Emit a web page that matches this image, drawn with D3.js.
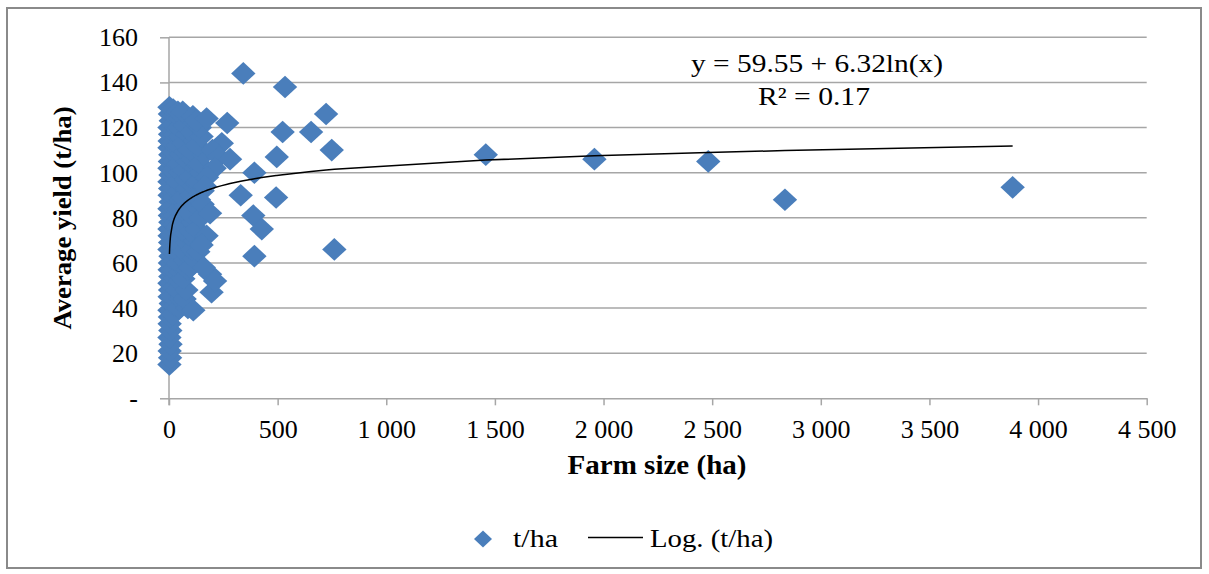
<!DOCTYPE html>
<html>
<head>
<meta charset="utf-8">
<script src="https://cdn.jsdelivr.net/npm/d3@7"></script>
<style>
  body { margin: 0; background: #fff; }
  text { font-family: "Liberation Serif", "Times New Roman", serif; fill: #000; }
</style>
</head>
<body>
<div class="chart"></div>
<script>
// farm size (ha) vs average yield (t/ha)
var farmSize = [
  // narrow column at the y axis
  2,5,3,7,2,6,3,4,2,8,3,5,2,6,3,4,7,2,5,3,2,6,4,2,8,3,5,2,7,2,4,6,2,3,5,2,8,4,2,
  18,25,15,22,28,17,24,20,26,16,23,29,19,25,21,27,18,24,22,16,28,20,25,19,
  45,52,40,48,55,42,50,46,53,41,49,44,54,47,40,51,45,55,43,50,46,52,41,
  87,72,80,66,85,74,68,82,77,70,88,75,65,83,79,71,86,76,67,84,73,63,
  112,98,115,105,120,100,110,95,118,104,114,99,122,108,96,117,103,120,110,
  135,128,145,138,155,132,148,140,160,130,150,142,125,
  173,268,243,200,230,281,210,175,165,155,189,173,150,189,196,212,160,
  // scattered farms
  342,534,723,523,654,749,496,393,493,330,388,427,393,761,
  1458,1958,2482,2835,3883
];
var avgYield = [
  15,18,21,24,27,30,33,36,39,42,45,48,51,54,57,60,63,66,69,72,75,78,81,84,87,90,93,96,99,102,105,108,111,114,117,120,123,126,129,
  37,41,45,49,53,57,61,65,69,73,77,81,85,89,93,97,101,105,109,113,117,121,125,128,
  40,44,48,52,56,60,64,68,72,76,80,84,88,92,96,100,104,108,112,116,120,124,127,
  40,44,48,53,57,61,65,69,73,77,81,85,89,93,97,101,105,109,113,117,121,127,
  39,58,62,66,70,74,78,82,86,90,94,98,102,106,110,114,118,122,125,
  65,75,80,88,92,96,100,104,108,112,116,120,123,
  124,122,113,110,107,106,102,98,94,86,82,72,68,55,47,52,58,
  144,138,126,118,118,110,107,100,89,90,81,75,63,66,
  108,106,105,88,93.5
];
var xTicks = [0,500,1000,1500,2000,2500,3000,3500,4000,4500];
var yTicks = [0,20,40,60,80,100,120,140,160];
var trendA = 59.55, trendB = 6.32;   // y = a + b ln(x)
var eqText = "y = 59.55 + 6.32ln(x)";
var r2Text = "R\u00b2 = 0.17";

var width = 1209, height = 574;
var svg = d3.select(".chart").append("svg").attr("width", width).attr("height", height);

svg.append("rect").attr("x", 7).attr("y", 8).attr("width", 1194).attr("height", 560)
  .attr("fill", "#fff").attr("stroke", "#8a8a8a").attr("stroke-width", 2);

var x = d3.scaleLinear().domain([0, 4500]).range([169, 1146.7]);
var y = d3.scaleLinear().domain([0, 160]).range([398.3, 37.3]);

// gridlines
svg.append("g").selectAll("line").data(yTicks.filter(function(d){ return d > 0; })).enter().append("line")
  .attr("x1", x(0)).attr("x2", x(4500))
  .attr("y1", function(d){ return y(d); }).attr("y2", function(d){ return y(d); })
  .attr("stroke", "#a6a6a6").attr("stroke-width", 1.5);

var fmt = function(d){ return d >= 1000 ? d3.format(",")(d).replace(",", " ") : String(d); };

var xAxis = svg.append("g").attr("transform", "translate(0," + y(0) + ")")
  .call(d3.axisBottom(x).tickValues(xTicks).tickFormat(fmt).tickSize(7).tickSizeOuter(0).tickPadding(14.5));
var yAxis = svg.append("g").attr("transform", "translate(" + x(0) + ",0)")
  .call(d3.axisLeft(y).tickValues(yTicks).tickFormat(function(d){ return d === 0 ? "-" : d; })
    .tickSize(9).tickSizeOuter(0).tickPadding(22));
[xAxis, yAxis].forEach(function(g){
  g.selectAll("path, line").attr("stroke", "#a6a6a6").attr("stroke-width", 1.5);
  g.selectAll("text").style("font-family", "Liberation Serif").style("font-size", "26px").attr("fill", "#000");
});
// y axis line runs down past the baseline like the tick marks
yAxis.select("path.domain").remove();
svg.append("line").attr("x1", x(0)).attr("x2", x(0)).attr("y1", y(160)).attr("y2", y(0) + 7)
  .attr("stroke", "#a6a6a6").attr("stroke-width", 1.5);

// points
var pts = farmSize.map(function(d, i){ return [d, avgYield[i]]; });
var diamond = function(w, h){ return "M0," + (-h) + "L" + w + ",0L0," + h + "L" + (-w) + ",0Z"; };
svg.append("g").selectAll("path").data(pts).enter().append("path")
  .attr("d", diamond(12.2, 11.3))
  .attr("transform", function(d){ return "translate(" + x(d[0]) + "," + y(d[1]) + ")"; })
  .attr("fill", "#4a7ebb");

// log trendline through the observed farm sizes
var trendX = Array.from(new Set(farmSize)).sort(d3.ascending);
var line = d3.line().x(function(d){ return x(d); }).y(function(d){ return y(trendA + trendB * Math.log(d)); });
svg.append("path").datum(trendX).attr("d", line)
  .attr("fill", "none").attr("stroke", "#000").attr("stroke-width", 1.5);

svg.append("text").attr("x", 817).attr("y", 72).attr("text-anchor", "middle")
  .style("font-size", "25px").attr("textLength", 252).attr("lengthAdjust", "spacingAndGlyphs").text(eqText);
svg.append("text").attr("x", 814).attr("y", 105).attr("text-anchor", "middle")
  .style("font-size", "25px").attr("textLength", 112).attr("lengthAdjust", "spacingAndGlyphs").text(r2Text);

// axis titles
svg.append("text").attr("x", 657).attr("y", 474).attr("text-anchor", "middle")
  .style("font-size", "27px").style("font-weight", "bold")
  .attr("textLength", 179).attr("lengthAdjust", "spacingAndGlyphs").text("Farm size (ha)");
svg.append("text").attr("transform", "translate(71,218) rotate(-90)").attr("text-anchor", "middle")
  .style("font-size", "26px").style("font-weight", "bold")
  .attr("textLength", 223).attr("lengthAdjust", "spacingAndGlyphs").text("Average yield (t/ha)");

// legend
var lg = svg.append("g");
lg.append("path").attr("d", diamond(9, 8.5)).attr("transform", "translate(483,539)").attr("fill", "#4a7ebb");
lg.append("text").attr("x", 513).attr("y", 547).style("font-size", "25px")
  .attr("textLength", 45).attr("lengthAdjust", "spacingAndGlyphs").text("t/ha");
lg.append("line").attr("x1", 588).attr("x2", 643).attr("y1", 537.5).attr("y2", 537.5)
  .attr("stroke", "#000").attr("stroke-width", 1.5);
lg.append("text").attr("x", 650).attr("y", 547).style("font-size", "25px")
  .attr("textLength", 123).attr("lengthAdjust", "spacingAndGlyphs").text("Log. (t/ha)");
</script>
</body>
</html>
